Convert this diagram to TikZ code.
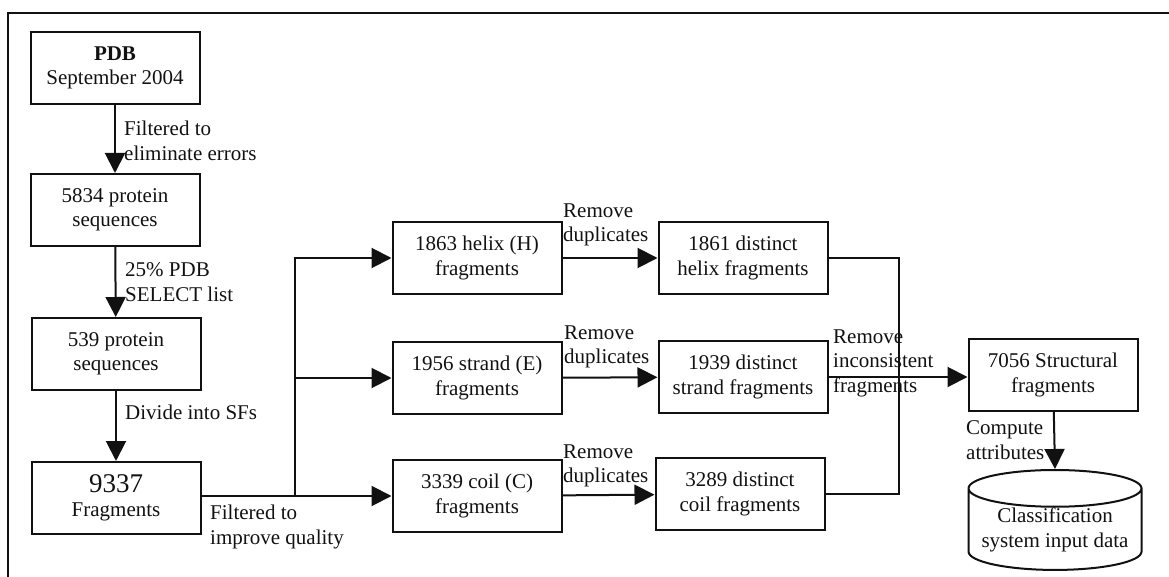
\documentclass[tikz,border=0pt]{standalone}
\usepackage{fontspec}
\setmainfont{Liberation Serif}
\usetikzlibrary{shapes.geometric,arrows.meta,positioning,calc}
\definecolor{ScanInk}{HTML}{111111}

\begin{document}
\begin{tikzpicture}[x=1pt, y=-1pt,
  font=\fontsize{21}{24.5}\selectfont,
  stage/.style={draw=ScanInk, line width=2pt, minimum width=169pt, minimum height=72pt, align=center, inner sep=2pt, text=ScanInk},
  store/.style={draw=ScanInk, line width=2pt, cylinder, shape border rotate=90, aspect=0.25, minimum width=173pt, minimum height=68pt, align=center, inner sep=0pt, text=ScanInk},
  note/.style={anchor=west, align=left, inner sep=0pt, text=ScanInk},
  flow/.style={draw=ScanInk, line width=2pt, -{Triangle[length=20pt, width=20pt]}},
  link/.style={draw=ScanInk, line width=2pt}]
\useasboundingbox (0,0) rectangle (1169,577);

% frame (top and left edges only)
\draw[ScanInk, line width=1.6pt] (8,577) -- (8,13) -- (1169,13);

% left column
\node[stage] (pdb) at (115,68) {\textbf{PDB}\\September 2004};
\node[stage] (seqall) at (115,210) {5834 protein\\sequences};
\node[stage] (seqsel) at (116,354) {539 protein\\sequences};
\node[stage] (frag) at (116,498) {{\fontsize{27}{28}\selectfont 9337}\\Fragments};

\draw[flow] (pdb) -- (seqall);
\draw[flow] (seqall) -- (seqsel);
\draw[flow] (seqsel) -- (frag);
\node[note] (filterr) at (124,141) {Filtered to\\eliminate errors};
\node[note] (select) at (125,282) {25\% PDB\\SELECT list};
\node[note] (divide) at (125,412) {Divide into SFs};

% split by secondary structure
\node[stage] (helix) at (477,258) {1863 helix (H)\\fragments};
\node[stage] (strand) at (477,378) {1956 strand (E)\\fragments};
\node[stage] (coil) at (477,496) {3339 coil (C)\\fragments};
\coordinate (split) at (295,496);
\draw[flow] (frag.east |- split) -- (coil);
\draw[flow] (split) |- (helix);
\draw[flow] (split) |- (strand);
\node[note] (filtqual) at (210,527) {Filtered to\\improve quality};

% remove duplicates
\node[stage] (dhelix) at (743,258) {1861 distinct\\helix fragments};
\node[stage] (dstrand) at (743,377) {1939 distinct\\strand fragments};
\node[stage] (dcoil) at (740,494) {3289 distinct\\coil fragments};
\draw[flow] (helix) -- (dhelix);
\draw[flow] (strand) -- (dstrand);
\draw[flow] (coil) -- (dcoil);
\node[note] (duph) at (563,225) {Remove\\duplicates};
\node[note] (dups) at (564,347) {Remove\\duplicates};
\node[note] (dupc) at (563,466) {Remove\\duplicates};

% merge + output
\node[stage] (struct) at (1053,375) {7056 Structural\\fragments};
\node[store, anchor=top] (db) at (1055,469) {Classification\\system input data};
\coordinate (merge) at (899,377);
\draw[link] (dhelix.east) -| (merge) |- (dcoil.east);
\draw[flow] (dstrand.east) -- (struct.west |- dstrand.east);
\node[note] (incons) at (833,363) {Remove\\inconsistent\\fragments};
\draw[flow] (struct) -- (db.top);
\node[note] (compute) at (966,440) {Compute\\attributes};
\end{tikzpicture}
\end{document}
